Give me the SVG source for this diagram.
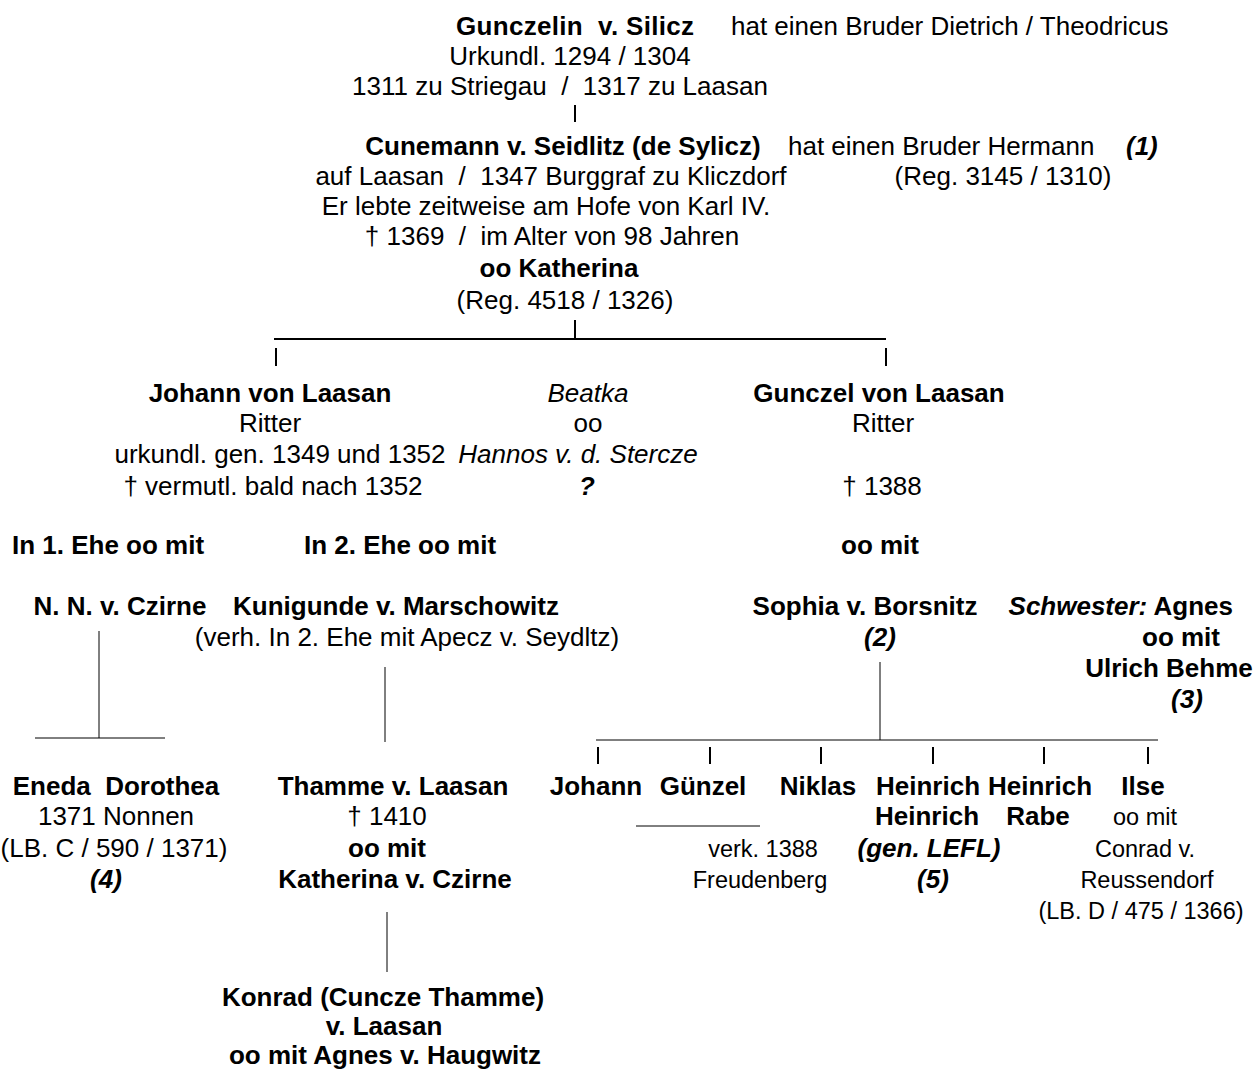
<svg xmlns="http://www.w3.org/2000/svg" width="1258" height="1069" viewBox="0 0 1258 1069" xml:space="preserve">
<style>
text{font-family:"Liberation Sans",Arial,sans-serif;font-size:26px;fill:#000;white-space:pre}
.b{font-weight:bold}
.i{font-style:italic}
.bi{font-weight:bold;font-style:italic}
.m{text-anchor:middle}
.e{text-anchor:end}
.s{font-size:23.5px}
.ln{stroke:#000;stroke-width:1;fill:none}
.bar{stroke:#000;stroke-width:2;fill:none}
</style>
<rect width="1258" height="1069" fill="#fff"/>
<g id="connectors">
<line class="bar" x1="575" y1="105" x2="575" y2="122"/>
<line class="bar" x1="575" y1="320" x2="575" y2="338"/>
<line class="bar" x1="274" y1="339" x2="886" y2="339"/>
<line class="bar" x1="276" y1="348" x2="276" y2="366"/>
<line class="bar" x1="886" y1="348" x2="886" y2="366"/>
<line class="ln" x1="99" y1="631" x2="99" y2="738"/>
<line class="ln" x1="35" y1="738" x2="165" y2="738"/>
<line class="ln" x1="385" y1="667" x2="385" y2="742"/>
<line class="ln" x1="880" y1="662" x2="880" y2="740"/>
<line class="ln" x1="596" y1="740" x2="1158" y2="740"/>
<line class="bar" x1="598" y1="747" x2="598" y2="764"/>
<line class="bar" x1="710" y1="747" x2="710" y2="764"/>
<line class="bar" x1="821" y1="747" x2="821" y2="764"/>
<line class="bar" x1="933" y1="747" x2="933" y2="764"/>
<line class="bar" x1="1044" y1="747" x2="1044" y2="764"/>
<line class="bar" x1="1148" y1="747" x2="1148" y2="764"/>
<line class="ln" x1="636" y1="826" x2="760" y2="826"/>
<line class="ln" x1="387" y1="912" x2="387" y2="972"/>
</g>
<g id="gunczelin">
<text x="456" y="35" class="b" textLength="238">Gunczelin  v. Silicz</text>
<text x="731" y="35">hat einen Bruder Dietrich / Theodricus</text>
<text x="570" y="65" class="m">Urkundl. 1294 / 1304</text>
<text x="560" y="95" class="m">1311 zu Striegau  /  1317 zu Laasan</text>
</g>
<g id="cunemann">
<text x="563" y="155" class="b m">Cunemann v. Seidlitz (de Sylicz)</text>
<text x="788" y="155">hat einen Bruder Hermann</text>
<text x="1126" y="155" class="bi">(1)</text>
<text x="551" y="185" class="m">auf Laasan  /  1347 Burggraf zu Kliczdorf</text>
<text x="1003" y="185" class="m">(Reg. 3145 / 1310)</text>
<text x="546" y="215" class="m">Er lebte zeitweise am Hofe von Karl IV.</text>
<text x="552" y="245" class="m">† 1369  /  im Alter von 98 Jahren</text>
<text x="559" y="277" class="b m">oo Katherina</text>
<text x="565" y="309" class="m">(Reg. 4518 / 1326)</text>
</g>
<g id="johann">
<text x="270" y="402" class="b m">Johann von Laasan</text>
<text x="270" y="432" class="m">Ritter</text>
<text x="280" y="463" class="m">urkundl. gen. 1349 und 1352</text>
<text x="273" y="495" class="m">† vermutl. bald nach 1352</text>
</g>
<g id="beatka">
<text x="588" y="402" class="i m">Beatka</text>
<text x="588" y="432" class="m">oo</text>
<text x="578" y="463" class="i m">Hannos v. d. Stercze</text>
<text x="587" y="495" class="bi m">?</text>
</g>
<g id="gunczel">
<text x="879" y="402" class="b m">Gunczel von Laasan</text>
<text x="883" y="432" class="m">Ritter</text>
<text x="882" y="495" class="m">† 1388</text>
</g>
<g id="marriages">
<text x="108" y="554" class="b m">In 1. Ehe oo mit</text>
<text x="400" y="554" class="b m">In 2. Ehe oo mit</text>
<text x="880" y="554" class="b m">oo mit</text>
</g>
<g id="nn-czirne">
<text x="120" y="615" class="b m">N. N. v. Czirne</text>
</g>
<g id="kunigunde">
<text x="396" y="615" class="b m">Kunigunde v. Marschowitz</text>
<text x="407" y="646" class="m">(verh. In 2. Ehe mit Apecz v. Seydltz)</text>
</g>
<g id="sophia">
<text x="865" y="615" class="b m">Sophia v. Borsnitz</text>
<text x="880" y="646" class="bi m">(2)</text>
</g>
<g id="agnes">
<text x="1233" y="615" class="e"><tspan class="bi">Schwester:</tspan><tspan class="b"> Agnes</tspan></text>
<text x="1181" y="646" class="b m">oo mit</text>
<text x="1169" y="677" class="b m">Ulrich Behme</text>
<text x="1187" y="708" class="bi m">(3)</text>
</g>
<g id="eneda-dorothea">
<text x="116" y="795" class="b m">Eneda  Dorothea</text>
<text x="116" y="825" class="m">1371 Nonnen</text>
<text x="114" y="857" class="m">(LB. C / 590 / 1371)</text>
<text x="106" y="888" class="bi m">(4)</text>
</g>
<g id="thamme">
<text x="393" y="795" class="b m">Thamme v. Laasan</text>
<text x="387" y="825" class="m">† 1410</text>
<text x="387" y="857" class="b m">oo mit</text>
<text x="395" y="888" class="b m">Katherina v. Czirne</text>
</g>
<g id="johann2">
<text x="596" y="795" class="b m">Johann</text>
</g>
<g id="guenzel-niklas">
<text x="703" y="795" class="b m">Günzel</text>
<text x="818" y="795" class="b m">Niklas</text>
<text x="763" y="857" class="s m">verk. 1388</text>
<text x="760" y="888" class="s m">Freudenberg</text>
</g>
<g id="heinrich1">
<text x="928" y="795" class="b m">Heinrich</text>
<text x="927" y="825" class="b m">Heinrich</text>
<text x="929" y="857" class="bi m">(gen. LEFL)</text>
<text x="933" y="888" class="bi m">(5)</text>
</g>
<g id="heinrich2">
<text x="1040" y="795" class="b m">Heinrich</text>
<text x="1038" y="825" class="b m">Rabe</text>
</g>
<g id="ilse">
<text x="1143" y="795" class="b m">Ilse</text>
<text x="1145" y="825" class="s m">oo mit</text>
<text x="1145" y="857" class="s m">Conrad v.</text>
<text x="1147" y="888" class="s m">Reussendorf</text>
<text x="1141" y="919" class="s m">(LB. D / 475 / 1366)</text>
</g>
<g id="konrad">
<text x="383" y="1006" class="b m">Konrad (Cuncze Thamme)</text>
<text x="384" y="1035" class="b m">v. Laasan</text>
<text x="385" y="1064" class="b m">oo mit Agnes v. Haugwitz</text>
</g>
</svg>
